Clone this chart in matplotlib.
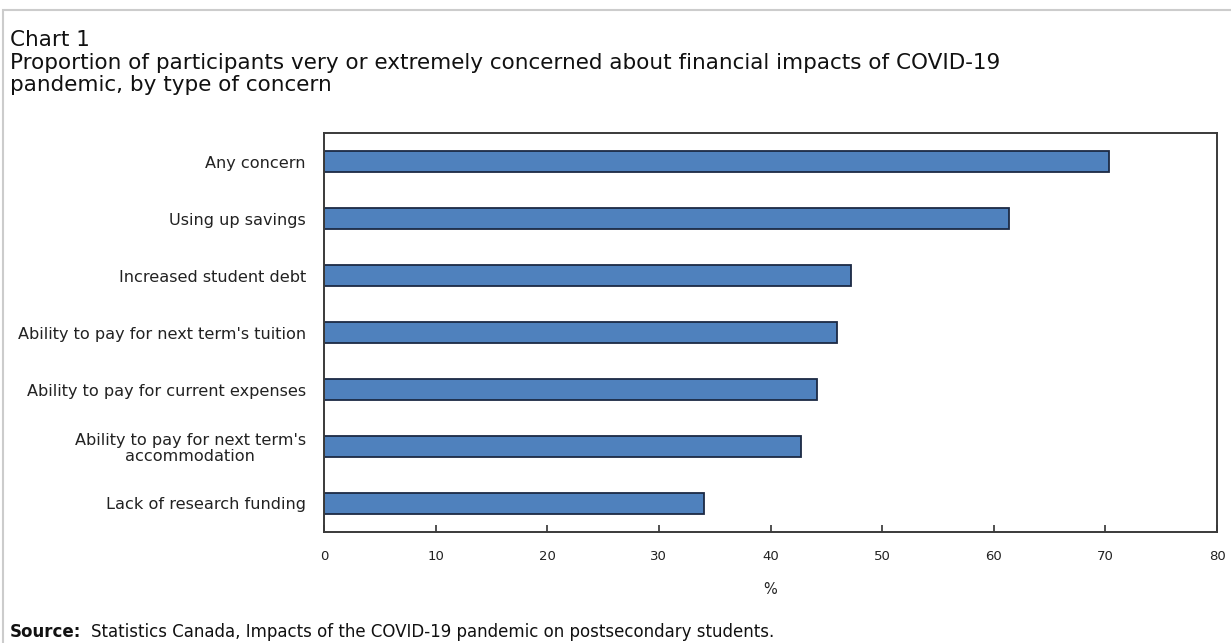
import matplotlib.pyplot as plt
from matplotlib.patches import Rectangle

plt.rcParams['font.family'] = ['DejaVu Sans']

# data
categories = ['Any concern',
              'Using up savings',
              'Increased student debt',
              "Ability to pay for next term's tuition",
              'Ability to pay for current expenses',
              "Ability to pay for next term's\naccommodation",
              'Lack of research funding']
values = [70.3, 61.4, 47.2, 46.0, 44.2, 42.7, 34.0]
xticks = [0, 10, 20, 30, 40, 50, 60, 70, 80]

fig = plt.figure(figsize=(12.31, 6.43), dpi=100)
ax = fig.add_axes([324/1231, 1-532/643, (1217-324)/1231, (532-133)/643])

ypos = list(range(len(categories)))
ax.barh(ypos, values, height=0.37, color='#4F81BD', edgecolor='#1C2A44',
        linewidth=1.3)

ax.set_ylim(len(categories)-0.5, -0.5)
ax.set_xlim(0, 80)
ax.set_yticks(ypos)
ax.set_yticklabels(categories, fontsize=11.6, color='#222222', ha='right',
                   multialignment='center', linespacing=1.1)
ax.tick_params(axis='y', length=0, pad=13)
ax.set_xticks(xticks)
ax.set_xticklabels([str(t) for t in xticks], fontsize=9.5, color='#222222')
ax.tick_params(axis='x', direction='in', length=5, width=1.2, color='#333333', pad=13)
ax.set_xlabel('%', fontsize=10.5, color='#222222', labelpad=14)
for s in ax.spines.values():
    s.set_color('#3a3a3a')
    s.set_linewidth(1.4)

# titles
tsize = 15.5
fig.text(10/1231, 1-40/643, 'Chart 1', fontsize=tsize, va='center', color='#111111')
fig.text(10/1231, 1-63/643,
         'Proportion of participants very or extremely concerned about financial impacts of COVID-19',
         fontsize=tsize, va='center', color='#111111')
fig.text(10/1231, 1-85/643, 'pandemic, by type of concern', fontsize=tsize,
         va='center', color='#111111')

# source line
fig.text(10/1231, 1-632/643, 'Source:', fontsize=12, fontweight='bold',
         va='center', color='#111111')
fig.text(91/1231, 1-632/643,
         'Statistics Canada, Impacts of the COVID-19 pandemic on postsecondary students.',
         fontsize=12, va='center', color='#111111')

# outer frame
fig.patches.append(Rectangle((3/1231, -0.1), 1.2, 1-10/643+0.1,
                             transform=fig.transFigure, fill=False,
                             edgecolor='#cccccc', linewidth=1.5))

fig.savefig('out.png', dpi=100)
